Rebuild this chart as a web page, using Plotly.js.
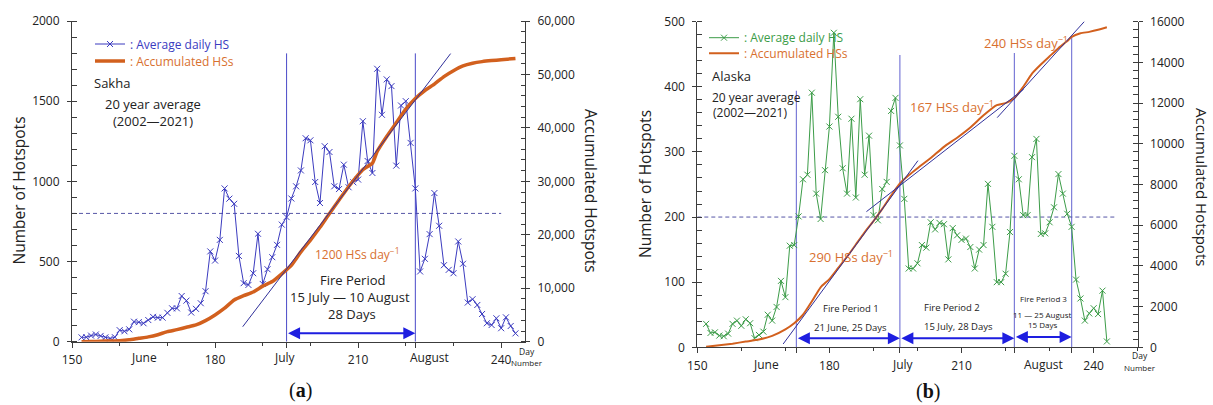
<!DOCTYPE html>
<html><head><meta charset="utf-8">
<script src="https://cdn.plot.ly/plotly-3.0.1.min.js"></script>
<style>html,body{margin:0;padding:0;background:#fff}#chart{width:1213px;height:405px}</style>
</head><body><div id="chart"></div>
<script>
// ---------------- DATA ----------------
const days = [152,153,154,155,156,157,158,159,160,161,162,163,164,165,166,167,168,169,170,171,
  172,173,174,175,176,177,178,179,180,181,182,183,184,185,186,187,188,189,190,191,
  192,193,194,195,196,197,198,199,200,201,202,203,204,205,206,207,208,209,210,211,
  212,213,214,215,216,217,218,219,220,221,222,223,224,225,226,227,228,229,230,231,
  232,233,234,235,236,237,238,239,240,241,242,243];

// Panel (a) Sakha: average daily hotspots
const hsSakha = [27,28,38,45,36,27,20,28,72,65,77,125,122,115,135,155,150,150,180,208,
  208,285,256,182,205,240,315,563,506,635,956,892,860,535,365,354,427,673,360,452,
  527,604,730,777,893,969,1068,1269,1256,996,865,1219,1183,969,952,1104,963,994,1011,1375,
  1127,1052,1702,1415,1636,1594,1098,1473,1500,1240,956,438,517,671,927,723,477,448,427,625,
  486,244,265,229,173,115,104,146,84,152,98,52];
// Panel (a) accumulated hotspots
const accDaysSakha = [152,154,156,158,160,162,164,166,168,170,172,174,176,178,180,182,184,186,188,190,
  192,194,196,198,200,202,204,206,208,210,211,213,214,216,218,220,222,224,226,228,230,232,234,236,238,240,243];
const accSakha = [0,30,90,140,190,350,640,900,1310,1875,2250,2700,3130,3940,5000,6260,7800,8600,9300,10400,
  11250,12700,14300,16800,19000,21400,24000,26500,29000,31200,32200,33400,35600,38400,40950,43500,45500,47000,48200,49600,50700,51600,52100,52400,52600,52750,53000];
const fitDaysSakha = [185.8, 229.4];
const fitAccSakha = [2800, 53900];
const periodSakha = [195, 222];
const periodTopSakha = [1798, 1798];
const thresholdSakha = 800;
const arrowLevelSakha = 52;

// Panel (b) Alaska
const hsAlaska = [36,22,23,18,17,21,36,41,33,43,37,14,19,24,50,41,62,102,77,156,
  157,201,258,265,391,236,197,272,339,483,354,275,236,351,230,381,265,325,203,195,
  243,254,363,383,310,228,121,121,129,157,153,192,181,191,189,135,183,172,165,167,
  154,121,150,157,251,185,100,100,113,177,294,258,203,203,292,320,174,175,192,215,
  266,236,205,185,104,75,41,52,60,51,87,9];
const accDaysAlaska = [152,155,158,161,164,167,170,172,174,176,178,180,182,184,186,188,190,192,194,196,
  198,200,203,206,209,212,215,218,220,222,224,226,228,230,232,234,235,237,239,241,243];
const accAlaska = [30,100,180,280,380,560,880,1180,1600,2250,2950,3350,3900,4450,5050,5650,6200,6800,7450,8050,
  8450,8800,9300,9850,10300,10800,11400,11900,12000,12250,12800,13450,13900,14300,14700,15050,15250,15430,15500,15600,15730];
const fitDaysAlaska = [[169.5, 200.1], [188.4, 224.1], [218.1, 239.0]];
const fitAccAlaska = [[162, 9172], [6665, 12682], [11286, 16275]];
const periodAlaska = [172.5, 196, 222, 235];
const periodTopAlaska = [394, 449, 452, 477];
const thresholdAlaska = 200;
const arrowLevelAlaska = [14, 14, 16];

// tick labels
const dayTicks = [150, 180, 210, 240];
const dayMinor = [160, 170, 190, 200, 220, 230, 250];
const monthNames = ['June', 'July', 'August'];
const monthPosSakha = [165.2, 194.7, 225];
const monthPosAlaska = [165.5, 196.7, 228.7];

// ---------------- STYLE / HELPERS ----------------
const W = 1213, H = 405;
const PX = p => p / W, PY = p => 1 - p / H;
const FONT = 'Open Sans';
const AX = '#3c3c3c';
const BLUE = '#3b3bbf', GREEN = '#3c9c48', ORANGE = '#d2601e', ORTXT = '#d8702f';
const FIT = '#30309a', ARROW = '#1e1ee0';
const tickFont = {family: FONT, size: 12, color: '#222'};

function T(text, x, y, size, color, xanchor, extra) {
  return Object.assign({text, xref: 'paper', yref: 'paper', x: PX(x), y: PY(y),
    xanchor: xanchor || 'center', yanchor: 'middle', showarrow: false,
    font: {family: FONT, size, color: color || '#222'}}, extra || {});
}

const layout = {
  width: W, height: H, margin: {l: 0, r: 0, t: 0, b: 0},
  paper_bgcolor: '#fff', plot_bgcolor: 'rgba(0,0,0,0)', showlegend: true,
  shapes: [], annotations: []
};

function setupPanel(ids, domX, domY, rangeX, rangeL, rangeR, dL, mL, dR, mR, rFormat, periods) {
  const [xa, xt, xg, yl, yr, ylg, yrg] = ids;
  const xn = k => k === 1 ? 'x' : 'x' + k;
  const yn = k => k === 1 ? 'y' : 'y' + k;
  const xk = k => k === 1 ? 'xaxis' : 'xaxis' + k;
  const yk = k => k === 1 ? 'yaxis' : 'yaxis' + k;
  const base = {showgrid: false, zeroline: false, fixedrange: true, tickcolor: AX};
  layout[xk(xa)] = Object.assign({}, base, {domain: domX, range: rangeX, anchor: yn(yl), showline: true, linecolor: AX,
    ticks: 'outside', ticklen: 5, tickmode: 'array',
    tickvals: dayTicks.concat(periods), ticktext: dayTicks.map(String).concat(periods.map(() => '')),
    tickfont: tickFont, ticklabelstandoff: 2,
    minor: {ticks: 'outside', ticklen: 3, tickcolor: AX, tickmode: 'array', tickvals: dayMinor, showgrid: false}});
  layout[xk(xt)] = Object.assign({}, base, {overlaying: xn(xa), side: 'top', anchor: yn(yl), range: rangeX,
    showline: true, linecolor: AX, ticks: 'outside', ticklen: 5, tickmode: 'array', tickvals: dayTicks,
    showticklabels: false,
    minor: {ticks: 'outside', ticklen: 3, tickcolor: AX, tickmode: 'array', tickvals: dayMinor, showgrid: false}});
  layout[xk(xg)] = Object.assign({}, base, {overlaying: xn(xa), anchor: yn(yl), range: rangeX, showline: false,
    ticks: 'inside', ticklen: 5, mirror: 'ticks', tickmode: 'array', tickvals: dayTicks, showticklabels: false,
    minor: {ticks: 'inside', ticklen: 2.5, tickcolor: AX, tickmode: 'array', tickvals: dayMinor, showgrid: false}});
  layout[yk(yl)] = Object.assign({}, base, {domain: domY, range: rangeL, anchor: xn(xa), showline: true, linecolor: AX,
    ticks: 'outside', ticklen: 4, tickmode: 'linear', tick0: 0, dtick: dL, tickfont: tickFont, ticklabelstandoff: 5,
    minor: {ticks: 'inside', ticklen: 4.5, tickcolor: AX, tickmode: 'linear', tick0: 0, dtick: mL, showgrid: false}});
  layout[yk(ylg)] = Object.assign({}, base, {overlaying: yn(yl), anchor: xn(xa), side: 'left', range: rangeL, showline: false,
    ticks: 'inside', ticklen: 5, tickmode: 'linear', tick0: 0, dtick: dL, showticklabels: false});
  layout[yk(yr)] = Object.assign({}, base, {overlaying: yn(yl), anchor: xn(xa), side: 'right', range: rangeR, showline: true, linecolor: AX,
    ticks: 'outside', ticklen: 4, tickmode: 'linear', tick0: 0, dtick: dR, tickformat: rFormat, tickfont: tickFont, ticklabelstandoff: 5,
    minor: {ticks: 'inside', ticklen: 4.5, tickcolor: AX, tickmode: 'linear', tick0: 0, dtick: mR, showgrid: false}});
  layout[yk(yrg)] = Object.assign({}, base, {overlaying: yn(yl), anchor: xn(xa), side: 'right', range: rangeR, showline: false,
    ticks: 'inside', ticklen: 5, tickmode: 'linear', tick0: 0, dtick: dR, showticklabels: false});
}

// Panel (a): x, x2, x3 ; y, y2 (right), y3, y4
setupPanel([1, 2, 3, 1, 2, 3, 4], [PX(72), PX(525)], [PY(341.7), PY(21)], [150, 245],
  [0, 2000], [0, 60000], 500, 100, 10000, 2000, ',', periodSakha);
// Panel (b): x4, x5, x6 ; y5, y6 (right), y7, y8
setupPanel([4, 5, 6, 5, 6, 7, 8], [PX(697.3), PX(1137.7)], [PY(347.3), PY(21.7)], [150, 250],
  [0, 500], [0, 16000], 100, 20, 2000, 400, 'd', periodAlaska);

// ---------------- TRACES ----------------
const traces = [];
traces.push({x: accDaysSakha, y: accSakha, xaxis: 'x', yaxis: 'y2', mode: 'lines', name: ': Accumulated HSs',
  legend: 'legend2', line: {color: ORANGE, width: 3.5, shape: 'spline', smoothing: 0.5}});
traces.push({x: fitDaysSakha, y: fitAccSakha, xaxis: 'x', yaxis: 'y2', mode: 'lines', showlegend: false,
  line: {color: FIT, width: 1}});
traces.push({x: days, y: hsSakha, xaxis: 'x', yaxis: 'y', mode: 'lines+markers', name: ': Average daily HS',
  legend: 'legend', line: {color: BLUE, width: 1},
  marker: {symbol: 'x-thin', size: 6, color: BLUE, line: {width: 1, color: BLUE}}});

traces.push({x: accDaysAlaska, y: accAlaska, xaxis: 'x4', yaxis: 'y6', mode: 'lines', name: ': Accumulated HSs',
  legend: 'legend4', line: {color: ORANGE, width: 2, shape: 'spline', smoothing: 0.5}});
fitDaysAlaska.forEach((fx, i) => traces.push({x: fx, y: fitAccAlaska[i], xaxis: 'x4', yaxis: 'y6', mode: 'lines',
  showlegend: false, line: {color: FIT, width: 1}}));
traces.push({x: days, y: hsAlaska, xaxis: 'x4', yaxis: 'y5', mode: 'lines+markers', name: ': Average daily HS',
  legend: 'legend3', line: {color: GREEN, width: 1},
  marker: {symbol: 'x-thin', size: 6, color: GREEN, line: {width: 1, color: GREEN}}});

// ---------------- LEGENDS ----------------
function leg(x, y, color, size) {
  return {x: PX(x), y: PY(y), xanchor: 'left', yanchor: 'middle', bgcolor: 'rgba(0,0,0,0)', borderwidth: 0,
    itemwidth: 30, font: {family: FONT, size, color}};
}
layout.legend = leg(90, 44, BLUE, 12);
layout.legend2 = leg(90, 61, ORTXT, 12);
layout.legend3 = leg(704, 37.7, GREEN, 12);
layout.legend4 = leg(704, 53.3, ORTXT, 12);

// ---------------- SHAPES ----------------
periodSakha.forEach((p, i) => layout.shapes.push({type: 'line', xref: 'x', yref: 'y', x0: p, x1: p, y0: 0,
  y1: periodTopSakha[i], line: {color: '#4a4ac8', width: 1}, layer: 'below'}));
layout.shapes.push({type: 'line', xref: 'x', yref: 'y', x0: dayTicks[0], x1: dayTicks[3], y0: thresholdSakha,
  y1: thresholdSakha, line: {color: '#5656a6', width: 1, dash: '4px,3px'}, layer: 'below'});
periodAlaska.forEach((p, i) => layout.shapes.push({type: 'line', xref: 'x4', yref: 'y5', x0: p, x1: p, y0: 0,
  y1: periodTopAlaska[i], line: {color: '#7c7cd8', width: 1.2}, layer: 'below'}));
layout.shapes.push({type: 'line', xref: 'x4', yref: 'y5', x0: dayTicks[0], x1: 245, y0: thresholdAlaska,
  y1: thresholdAlaska, line: {color: '#5656a6', width: 1, dash: '4px,3px'}, layer: 'below'});

// ---------------- ANNOTATIONS ----------------
const A = layout.annotations;
function arrow(xr, yr, x0, x1, y) {
  return {xref: xr, yref: yr, axref: xr, ayref: yr, x: x1, y: y, ax: x0, ay: y, text: '', showarrow: true,
    arrowhead: 2, startarrowhead: 2, arrowside: 'end+start', arrowsize: 1.2, startarrowsize: 1.2,
    arrowwidth: 2, arrowcolor: ARROW, standoff: 0, startstandoff: 0};
}
A.push(arrow('x', 'y', periodSakha[0], periodSakha[1], arrowLevelSakha));
for (let i = 0; i < 3; i++) A.push(arrow('x4', 'y5', periodAlaska[i], periodAlaska[i + 1], arrowLevelAlaska[i]));

// Panel (a) texts
A.push(T('Sakha', 92, 83, 13, '#222', 'left'));
A.push(T('20 year average', 153, 104, 13));
A.push(T('(2002\u20142021)', 153, 121, 13));
A.push(T('1200 HSs day<sup>\u22121</sup>', 357, 254, 12, ORTXT));
A.push(T('Fire Period', 352, 280, 13));
A.push(T('15 July \u2014 10 August', 350, 297, 13));
A.push(T('28 Days', 352, 314, 13));
monthNames.forEach((m, i) => A.push({text: m, xref: 'x', yref: 'paper', x: monthPosSakha[i], y: PY(357.5),
  xanchor: 'center', yanchor: 'middle', showarrow: false, font: tickFont}));
A.push(T('Day', 527, 351, 8.5));
A.push(T('Number', 527, 362, 8));
A.push(T('Number of Hotspots', 18.5, 191, 15.5, '#222', 'center', {textangle: -90}));
A.push(T('Accumulated Hotspots', 591, 191, 15.5, '#222', 'center', {textangle: 90}));
A.push(T('(<b>a</b>)', 300, 390, 20, '#111', 'center', {font: {family: 'Liberation Serif', size: 20, color: '#111'}}));

// Panel (b) texts
A.push(T('Alaska', 710, 76, 13, '#222', 'left'));
A.push(T('20 year average', 710, 97.7, 12, '#222', 'left'));
A.push(T('(2002\u20142021)', 749.5, 112, 12));
A.push(T('290 HSs day<sup>\u22121</sup>', 850.6, 256.7, 13, ORTXT));
A.push(T('167 HSs day<sup>\u22121</sup>', 951.7, 106, 13, ORTXT));
A.push(T('240 HSs day<sup>\u22121</sup>', 1025.5, 42.7, 13, ORTXT));
A.push(T('Fire Period 1', 851, 308.3, 9.5));
A.push(T('21 June, 25 Days', 850.7, 327.3, 9.5));
A.push(T('Fire Period 2', 951.7, 307.7, 9.5));
A.push(T('15 July, 28 Days', 958, 326, 9.5));
A.push(T('Fire Period 3', 1043, 298.3, 8));
A.push(T('11 \u2014 25 August', 1042.7, 314.3, 8));
A.push(T('15 Days', 1042.7, 324, 8));
monthNames.forEach((m, i) => A.push({text: m, xref: 'x4', yref: 'paper', x: monthPosAlaska[i], y: PY(364),
  xanchor: 'center', yanchor: 'middle', showarrow: false, font: tickFont}));
A.push(T('Day', 1140, 355.7, 8.5));
A.push(T('Number', 1140, 367.3, 8));
A.push(T('Number of Hotspots', 645, 184, 15.5, '#222', 'center', {textangle: -90}));
A.push(T('Accumulated Hotspots', 1202, 187, 15, '#222', 'center', {textangle: 90}));
A.push(T('(<b>b</b>)', 928, 391, 20, '#111', 'center', {font: {family: 'Liberation Serif', size: 20, color: '#111'}}));

Plotly.newPlot('chart', traces, layout, {staticPlot: true});
</script>
</body></html>
